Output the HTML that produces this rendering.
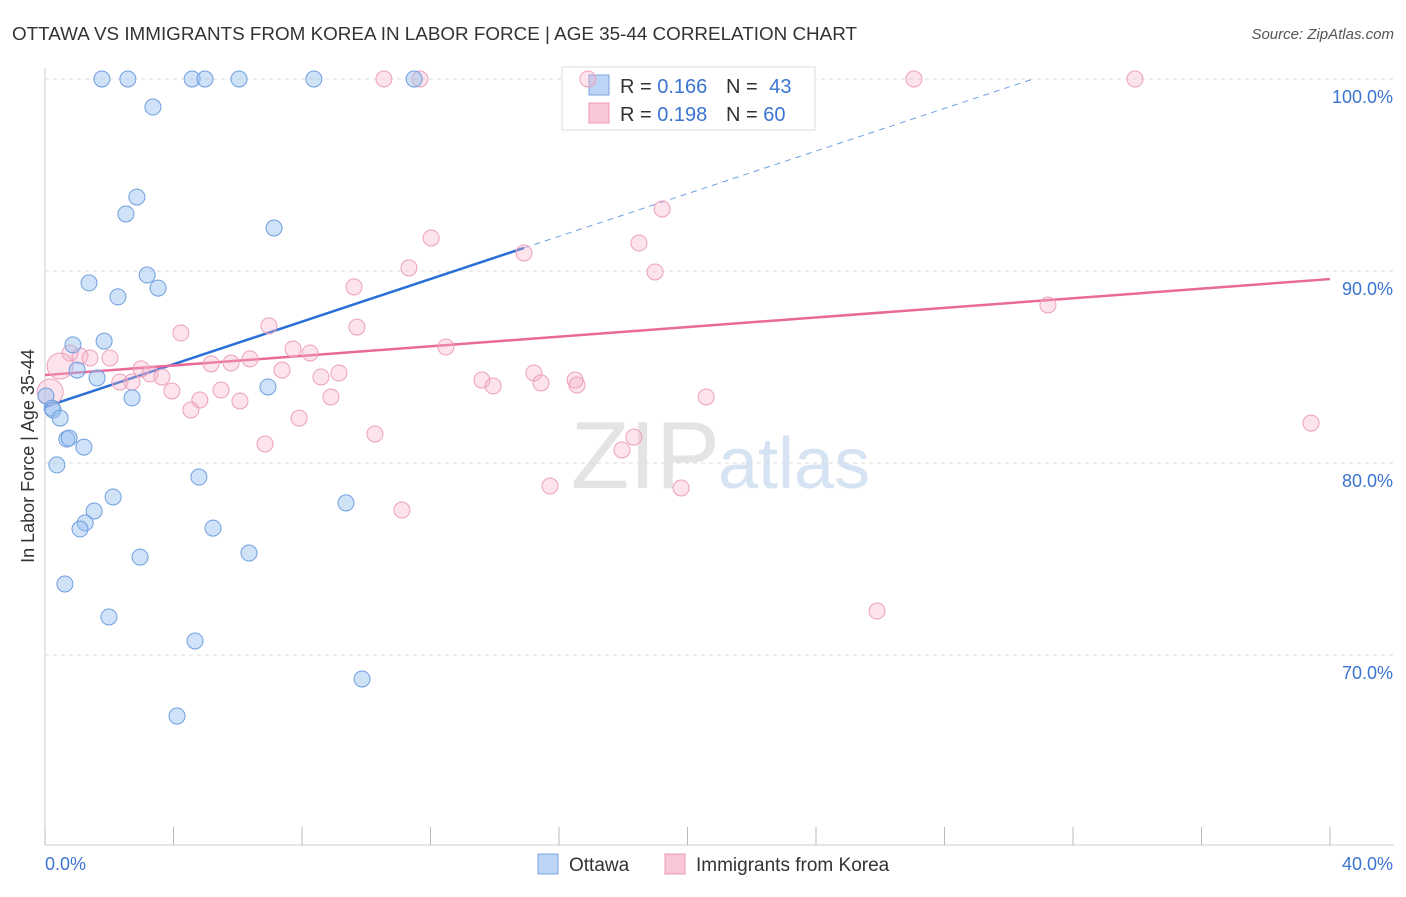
<!DOCTYPE html>
<html><head><meta charset="utf-8"><style>
body{margin:0;background:#fff;font-family:"Liberation Sans",sans-serif;}
svg text{font-family:"Liberation Sans",sans-serif;}
</style></head><body>
<svg id="chart" width="1406" height="892">
<text x="12" y="40" font-size="18.5" fill="#333" textLength="845" lengthAdjust="spacingAndGlyphs">OTTAWA VS IMMIGRANTS FROM KOREA IN LABOR FORCE | AGE 35-44 CORRELATION CHART</text>
<text x="1394" y="39" font-size="15" fill="#555" font-style="italic" text-anchor="end">Source: ZipAtlas.com</text>
<text x="720" y="488" font-size="96" fill="#e4e4e4" text-anchor="end" font-family="Liberation Serif">ZIP</text>
<text x="718" y="488" font-size="72" fill="#d6e3f3">atlas</text>
<g id="grid"></g>
<g id="axes"></g>
<g id="lines"></g>
<g>
<rect x="562" y="67" width="253" height="63" fill="#fff" stroke="#ddd"/>
<rect x="589" y="75" width="20" height="20" fill="#bcd4f5" stroke="#7aa6e0"/>
<rect x="589" y="103" width="20" height="20" fill="#f9c6d5" stroke="#ea9ab4"/>
<text x="620" y="93" font-size="20" fill="#333">R = <tspan fill="#3b74d1">0.166</tspan></text>
<text x="726" y="93" font-size="20" fill="#333">N = <tspan fill="#3b74d1" dx="6">43</tspan></text>
<text x="620" y="121" font-size="20" fill="#333">R = <tspan fill="#3b74d1">0.198</tspan></text>
<text x="726" y="121" font-size="20" fill="#333">N = <tspan fill="#3b74d1">60</tspan></text>
</g>
<g id="pts"></g>
<text transform="translate(34,456) rotate(-90)" font-size="18" fill="#333" text-anchor="middle">In Labor Force | Age 35-44</text>
<g>
<rect x="538" y="854" width="20" height="20" fill="#bcd4f5" stroke="#7aa6e0"/>
<text x="569" y="871" font-size="19" fill="#333">Ottawa</text>
<rect x="665" y="854" width="20" height="20" fill="#f9c6d5" stroke="#ea9ab4"/>
<text x="696" y="871" font-size="19" fill="#333">Immigrants from Korea</text>
</g>
</svg>
<script>
const yTicks=[100,90,80,70];
const xTickLabels=["0.0%","40.0%"];
const blueX=[1.77,2.58,4.58,4.98,6.04,8.37,11.49,3.36,2.86,2.52,7.13,3.18,1.37,3.52,2.27,0.87,1.84,1.0,1.62,0.03,6.94,2.71,0.22,0.25,0.47,0.68,0.75,1.21,0.37,4.79,2.12,9.37,1.53,1.25,1.09,5.23,2.96,6.35,0.62,1.99,4.67,9.87,4.11];
const blueY=[100,100,100,100,100,100,100,98.54,93.85,92.97,92.24,89.79,89.38,89.11,88.65,86.15,86.35,84.84,84.43,83.49,83.96,83.39,82.86,82.76,82.34,81.25,81.3,80.83,79.9,79.27,78.23,77.92,77.5,76.88,76.56,76.61,75.1,75.31,73.7,71.98,70.73,68.75,66.82];
const pinkX=[10.55,11.67,16.9,27.05,33.93,19.21,12.02,18.49,14.91,11.33,18.99,9.62,31.22,4.23,6.97,9.71,12.48,7.72,8.25,0.78,1.09,1.4,2.02,0.47,0.16,5.17,5.79,6.38,7.38,2.99,3.27,3.64,2.33,2.71,3.95,5.48,6.07,4.82,4.54,8.59,9.15,8.9,13.6,13.95,15.22,15.44,16.5,16.56,20.58,39.41,10.27,6.85,7.91,18.33,17.96,15.72,19.8,11.11,25.9];
const pinkY=[100,100,100,100,100,93.23,91.72,91.46,90.94,90.16,89.95,89.17,88.23,86.77,87.14,87.08,86.04,85.94,85.73,85.73,85.57,85.47,85.47,85.05,83.7,85.16,85.21,85.42,84.84,84.9,84.64,84.48,84.22,84.22,83.75,83.8,83.23,83.28,82.76,84.48,84.69,83.44,84.32,84.01,84.69,84.17,84.32,84.06,83.44,82.08,81.51,80.99,82.34,81.35,80.68,78.8,78.7,77.55,72.29];
const pinkBig=[0,0,0,0,0,0,0,0,0,0,0,0,0,0,0,0,0,0,0,0,0,0,0,1,1];
const blueTrend=[82.92,91.2];const blueTrendX=[0,14.91];
const pinkTrend=[84.58,89.58];
const NS="http://www.w3.org/2000/svg";
const X=v=>45+v*32.125, Y=v=>79+(100-v)*19.2;
function mk(t,a,p){const e=document.createElementNS(NS,t);for(const k in a)e.setAttribute(k,a[k]);p.appendChild(e);return e;}
const g=document.getElementById('grid'),ax=document.getElementById('axes'),ln=document.getElementById('lines'),pts=document.getElementById('pts');
yTicks.forEach(t=>{const l=mk('line',{x1:45,x2:1394,y1:Y(t),y2:Y(t),stroke:'#ddd','stroke-dasharray':'4,4'},g);


const tx=mk('text',{x:1393,y:Y(t)+24,'font-size':18,fill:'#3b74d1','text-anchor':'end'},ax);tx.textContent=t.toFixed(1)+'%';

});
mk('line',{x1:45,x2:45,y1:68,y2:845,stroke:'#ccc'},ax);
mk('line',{x1:45,x2:1394,y1:845,y2:845,stroke:'#ccc'},ax);
for(let i=0;i<=10;i++){mk('line',{x1:X(i*4),x2:X(i*4),y1:827,y2:845,stroke:'#bbb'},ax);}
const xl0=mk('text',{x:45,y:870,'font-size':18,fill:'#3b74d1'},ax);xl0.textContent=xTickLabels[0];


const xl1=mk('text',{x:1393,y:870,'font-size':18,fill:'#3b74d1','text-anchor':'end'},ax);xl1.textContent=xTickLabels[1];


const slope=(blueTrend[1]-blueTrend[0])/(blueTrendX[1]-blueTrendX[0]);
const xEnd=blueTrendX[0]+(100-blueTrend[0])/slope;
const bl=mk('line',{x1:X(blueTrendX[0]),y1:Y(blueTrend[0]),x2:X(blueTrendX[1]),y2:Y(blueTrend[1]),stroke:'#2a6fd6','stroke-width':2.5},ln);


const bd=mk('line',{x1:X(blueTrendX[1]),y1:Y(blueTrend[1]),x2:X(xEnd),y2:Y(100),stroke:'#6f9fdf','stroke-width':1,'stroke-dasharray':'6,5'},ln);


const pl=mk('line',{x1:X(0),y1:Y(pinkTrend[0]),x2:X(40),y2:Y(pinkTrend[1]),stroke:'#e8699a','stroke-width':2.5},ln);


pinkX.forEach((x,i)=>{const c=mk('circle',{cx:X(x),cy:Y(pinkY[i]),r:pinkBig[i]?13:8,fill:'rgba(245,176,200,0.35)',stroke:'#eca0ba','stroke-width':1},pts);

});
blueX.forEach((x,i)=>{const c=mk('circle',{cx:X(x),cy:Y(blueY[i]),r:8,fill:'rgba(150,190,240,0.45)',stroke:'#6f9fdf','stroke-width':1},pts);

});
</script>
</body></html>
